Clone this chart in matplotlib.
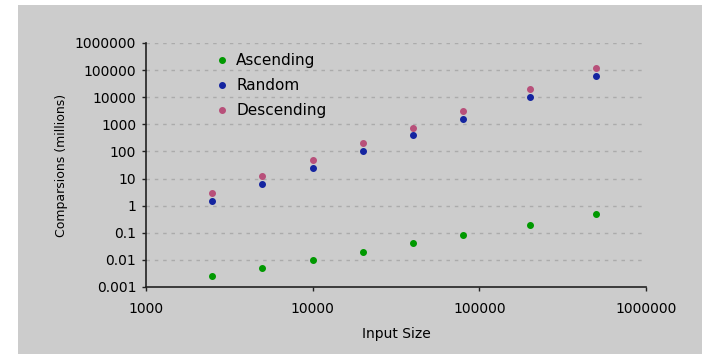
import matplotlib
matplotlib.use("Agg")
import matplotlib.pyplot as plt
from matplotlib.patches import Rectangle

input_size = [2500, 5000, 10000, 20000, 40000, 80000, 200000, 500000]
ascending = [0.0026, 0.0051, 0.010, 0.020, 0.042, 0.081, 0.195, 0.49]
random_order = [1.5, 6.5, 24.5, 104, 394, 1620, 10000, 60600]
descending = [3.0, 12.7, 48, 200, 752, 3160, 19600, 119000]

x_ticks = [1000, 10000, 100000, 1000000]
x_labels = ["1000", "10000", "100000", "1000000"]
y_ticks = [0.001, 0.01, 0.1, 1, 10, 100, 1000, 10000, 100000, 1000000]
y_labels = ["0.001", "0.01", "0.1", "1", "10", "100", "1000", "10000", "100000", "1000000"]

bg = "#cccccc"
fig = plt.figure(figsize=(7.02, 3.54), dpi=100, facecolor="white")
fig.patches.append(Rectangle((18 / 702, 0), 1, 349 / 354, transform=fig.transFigure,
                             facecolor=bg, edgecolor="none", zorder=-10))
ax = fig.add_axes([146 / 702, 1 - 287 / 354, 500 / 702, 244 / 354])
ax.set_facecolor(bg)

ax.plot(input_size, ascending, "o", color="#009900", markersize=4, label="Ascending")
ax.plot(input_size, random_order, "o", color="#1424a0", markersize=4, label="Random")
ax.plot(input_size, descending, "o", color="#b8507a", markersize=4, label="Descending")

ax.set_xscale("log")
ax.set_yscale("log")
ax.set_xlim(1000, 1000000)
ax.set_ylim(0.001, 1000000)
ax.set_xticks(x_ticks)
ax.set_xticklabels(x_labels)
ax.set_yticks(y_ticks)
ax.set_yticklabels(y_labels)
ax.minorticks_off()
ax.tick_params(axis="both", labelsize=10, color="#222222", length=3, width=1)
ax.tick_params(axis="x", pad=8)
ax.tick_params(axis="y", pad=4)

for y in y_ticks[1:]:
    ax.axhline(y, color="#ababab", linewidth=1, linestyle=(0, (2.5, 3.5)), zorder=0)

for s in ["top", "right"]:
    ax.spines[s].set_visible(False)
for s in ["left", "bottom"]:
    ax.spines[s].set_color("#222222")
    ax.spines[s].set_linewidth(1.2)

ax.set_xlabel("Input Size", fontsize=10, labelpad=8)
ax.set_ylabel("Comparsions (millions)", fontsize=9, labelpad=5)

ax.legend(loc="upper left", bbox_to_anchor=(0.125, 0.99), frameon=False, fontsize=11,
          handlelength=0.8, handletextpad=0.5, labelspacing=0.65, borderpad=0)

fig.savefig("out.png", dpi=100, facecolor="white")
